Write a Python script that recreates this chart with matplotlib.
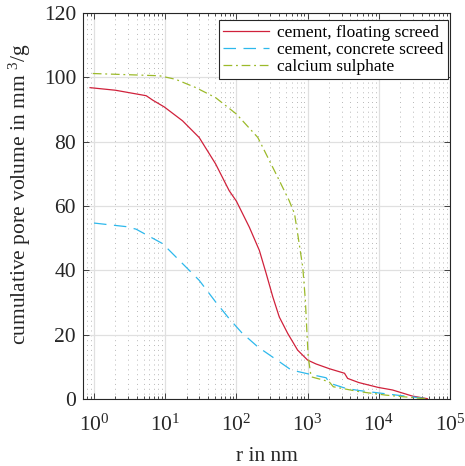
import matplotlib
matplotlib.use("Agg")
import matplotlib.pyplot as plt
from matplotlib.ticker import LogLocator, NullFormatter

plt.rcParams['font.family'] = ['Liberation Serif', 'DejaVu Serif']
plt.rcParams['mathtext.fontset'] = 'custom'
plt.rcParams['mathtext.rm'] = 'Liberation Serif'
plt.rcParams['mathtext.it'] = 'Liberation Serif:italic'

# data
r_float = [0.88, 2.0, 5.4, 6.7, 9.7, 17.5, 30, 51, 79, 100, 152, 210, 262, 325, 400,
           525, 724, 1000, 1310, 2030, 3300, 3650, 5250, 9800, 15600, 29700, 48000]
v_float = [96.8, 96.0, 94.3, 92.9, 90.8, 86.5, 81.3, 73.1, 64.8, 61.5, 53.4, 46.2, 39.0,
           31.7, 25.5, 20.4, 15.2, 12.1, 10.9, 9.4, 8.0, 6.4, 5.1, 3.6, 2.8, 0.9, 0.1]

r_conc = [1.0, 2.8, 3.9, 9.2, 17.5, 30, 51, 79, 119, 200, 400, 590, 1070, 1820, 2050,
          3450, 5400, 17900, 48000]
v_conc = [54.7, 53.6, 52.8, 48.3, 42.1, 36.9, 30.2, 25.0, 20.6, 16.2, 11.6, 9.0, 7.7,
          6.6, 4.9, 3.3, 2.6, 1.2, 0.1]

r_cas = [0.96, 8.3, 14, 27, 51, 100, 200, 360, 550, 655, 725, 855, 930, 980, 1020, 1120,
         2000, 2300, 5250, 12600, 48000]
v_cas = [101.2, 100.5, 99.4, 96.8, 93.7, 88.6, 81.3, 70.0, 61.7, 57.6, 51.4, 41.0, 30.7,
         20.4, 13.1, 6.9, 5.4, 3.8, 2.3, 1.2, 0.0]

labels = ['cement, floating screed', 'cement, concrete screed', 'calcium sulphate']
x_ticks = [1, 10, 100, 1000, 10000, 100000]
y_ticks = [0, 20, 40, 60, 80, 100, 120]

fig = plt.figure(figsize=(4.65, 4.66), dpi=100)
ax = fig.add_axes([0.1785, 0.1438, 0.7892, 0.8282])

ax.plot(r_float, v_float, color='#D0213B', lw=0.9, ls='-', label=labels[0])
ax.plot(r_conc, v_conc, color='#2DB8EC', lw=0.9, ls=(0, (10, 6)), label=labels[1])
ax.plot(r_cas, v_cas, color='#9CBA2A', lw=0.9, ls=(0, (7, 3, 1.5, 3)), label=labels[2])

ax.set_xscale('log')
ax.set_xlim(0.7, 1e5)
ax.set_ylim(0, 120)
ax.set_xticks(x_ticks)
ax.set_yticks(y_ticks)
ax.xaxis.set_minor_locator(LogLocator(base=10, subs=range(2, 10), numticks=20))
ax.xaxis.set_minor_formatter(NullFormatter())

ax.grid(True, which='major', color='#e0e0e0', lw=0.9, ls='-')
ax.grid(True, which='minor', axis='x', color='#b8b8b8', lw=0.7, ls=(0, (1, 4)))
ax.set_axisbelow(True)

dark = '#262626'
for s in ax.spines.values():
    s.set_color(dark)
    s.set_linewidth(0.8)
ax.tick_params(which='both', direction='in', top=True, right=True, colors=dark,
               labelsize=15.5, width=0.6)
ax.tick_params(which='major', length=4)
ax.tick_params(which='minor', length=2.5)
ax.tick_params(axis='x', pad=11)
ax.tick_params(axis='y', pad=5)

ax.set_xlabel('r in nm', fontsize=15.5, color=dark, labelpad=8)
ax.set_ylabel('cumulative pore volume in mm $^{3}$/g', fontsize=15.5, color=dark)
ax.yaxis.set_label_coords(-0.135, 0.53)

leg = ax.legend(loc='upper right', bbox_to_anchor=(0.995, 0.981), fontsize=12.5,
                fancybox=False, framealpha=1, edgecolor=dark, borderpad=0.25,
                labelspacing=0.05, handlelength=2.6, handletextpad=0.5, borderaxespad=0)
leg.get_frame().set_linewidth(0.8)

fig.savefig('out.png', dpi=100)
